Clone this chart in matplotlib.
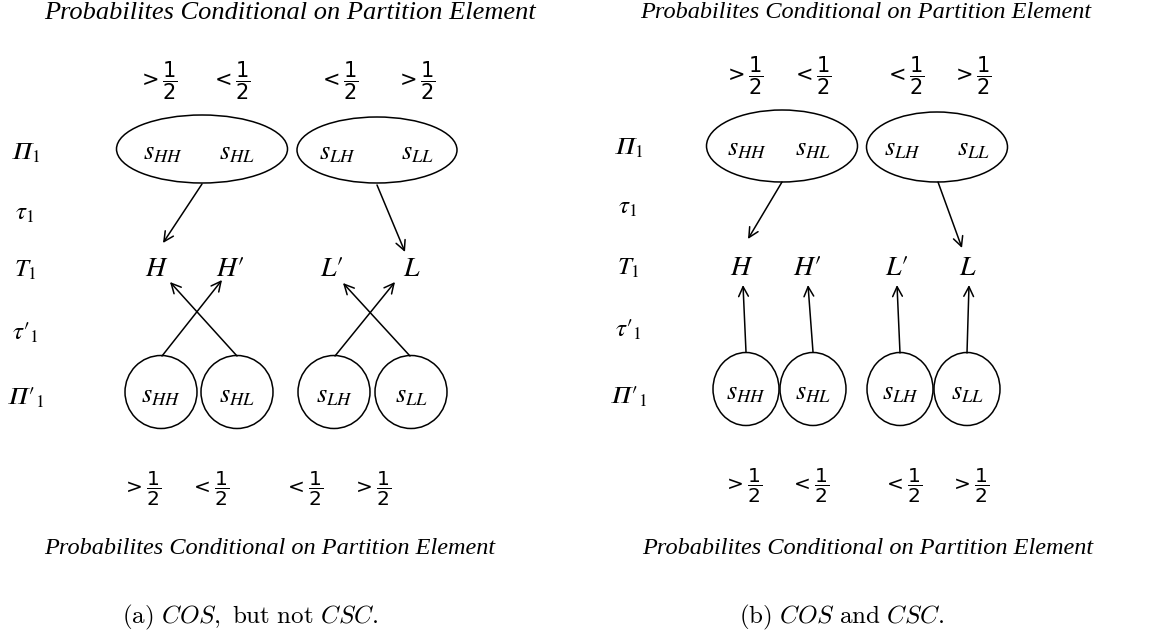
import matplotlib.pyplot as plt
from matplotlib.patches import Ellipse, FancyArrowPatch

# ---- content ----
row_labels = ["$\U0001D6F1_1$", r"$\tau_1$", r"$T_1$", r"$\tau\prime_1$", "$\U0001D6F1\\prime_1$"]
states = [r"$s_{HH}$", r"$s_{HL}$", r"$s_{LH}$", r"$s_{LL}$"]
types = [r"$H$", r"$H\prime$", r"$L\prime$", r"$L$"]
probs = [r"$>\dfrac{1}{2}$", r"$<\dfrac{1}{2}$", r"$<\dfrac{1}{2}$", r"$>\dfrac{1}{2}$"]
title = "Probabilites Conditional on Partition Element"
captions = [r"$\mathrm{(a)}\ COS\mathrm{,\ but\ not}\ CSC\mathrm{.}$",
            r"$\mathrm{(b)}\ COS\ \mathrm{and}\ CSC\mathrm{.}$"]
# which type each element of the coarse partition Pi_1 is sent to
tau1 = [0, 3]
# which type each singleton of Pi'_1 is sent to
tau1_prime = [[1, 0, 3, 2], [0, 1, 2, 3]]

# ---- layout (pixel coords) ----
panels = [
    dict(title_x=290, title_fs=19, btitle_x=270, cap_x=250, lab_x=25,
         row_y=[153, 213, 270, 333, 398],
         top_x=[157, 230, 338, 415], top_y=81,
         bot_x=[142, 210, 304, 372], bot_y=489,
         ell=[(202, 149, 171, 68), (377, 150, 160, 66)],
         ell_txt_x=[163, 237, 337, 417], ell_txt_y=152,
         ell_out=[(202, 184), (377, 185)],
         type_x=[157, 230, 332, 412], type_y=268,
         type_in=[(163, 243), (405, 252)],
         circ=[(161, 392), (237, 392), (334, 392), (411, 392)], circ_w=72, circ_h=73,
         up_end=[(222, 280), (170, 282), (395, 282), (343, 283)],
         up_start=[(162, 356), (237, 356), (335, 356), (410, 356)]),
    dict(title_x=866, title_fs=17.5, btitle_x=868, cap_x=842, lab_x=628,
         row_y=[148, 207, 268, 330, 397],
         top_x=[743, 811, 904, 971], top_y=76,
         bot_x=[743, 810, 903, 970], bot_y=486,
         ell=[(782, 146, 151, 72), (937, 147, 141, 70)],
         ell_txt_x=[747, 813, 902, 973], ell_txt_y=148,
         ell_out=[(782, 182), (938, 182)],
         type_x=[742, 807, 897, 968], type_y=267,
         type_in=[(748, 239), (962, 248)],
         circ=[(746, 389), (813, 389), (900, 389), (967, 389)], circ_w=66, circ_h=73,
         up_end=[(743, 285), (808, 285), (897, 285), (969, 285)],
         up_start=[(746, 352), (813, 352), (900, 353), (967, 353)]),
]

plt.rcParams["mathtext.fontset"] = "stix"

fig = plt.figure(figsize=(11.69, 6.39), dpi=100)
ax = fig.add_axes([0, 0, 1, 1])
ax.set_xlim(0, 1169)
ax.set_ylim(639, 0)
ax.axis("off")

title_kw = dict(family="Liberation Serif", style="italic", ha="center", va="center")


def arrow(p0, p1):
    ax.add_patch(FancyArrowPatch(p0, p1, arrowstyle="->,head_length=7,head_width=3.5",
                                 mutation_scale=1, lw=1.1, color="black",
                                 shrinkA=0, shrinkB=0))


for k, p in enumerate(panels):
    ax.text(p["title_x"], 13, title, fontsize=p["title_fs"], **title_kw)
    ax.text(p["btitle_x"], 549, title, fontsize=17.5, **title_kw)
    ax.text(p["cap_x"], 617, captions[k], fontsize=18, math_fontfamily="cm",
            ha="center", va="center")

    for lab, y in zip(row_labels, p["row_y"]):
        ax.text(p["lab_x"], y, lab, fontsize=18, ha="center", va="center")

    for s, x in zip(probs, p["top_x"]):
        ax.text(x, p["top_y"], s, fontsize=15, math_fontfamily="dejavusans",
                ha="center", va="center")
    for s, x in zip(probs, p["bot_x"]):
        ax.text(x, p["bot_y"], s, fontsize=14.5, math_fontfamily="dejavusans",
                ha="center", va="center")

    for (cx, cy, w, h) in p["ell"]:
        ax.add_patch(Ellipse((cx, cy), w, h, fill=False, lw=1.1, color="black"))
    for s, x in zip(states, p["ell_txt_x"]):
        ax.text(x, p["ell_txt_y"], s, fontsize=19, ha="center", va="center")

    for t, x in zip(types, p["type_x"]):
        ax.text(x, p["type_y"], t, fontsize=20, ha="center", va="center")

    for i, tgt in enumerate(tau1):
        arrow(p["ell_out"][i], p["type_in"][i])

    for (cx, cy), s in zip(p["circ"], states):
        ax.add_patch(Ellipse((cx, cy), p["circ_w"], p["circ_h"], fill=False,
                             lw=1.1, color="black"))
        ax.text(cx, cy + 3, s, fontsize=19, ha="center", va="center")

    for i, tgt in enumerate(tau1_prime[k]):
        arrow(p["up_start"][i], p["up_end"][i])

fig.savefig("out.png", dpi=100, facecolor="white")
